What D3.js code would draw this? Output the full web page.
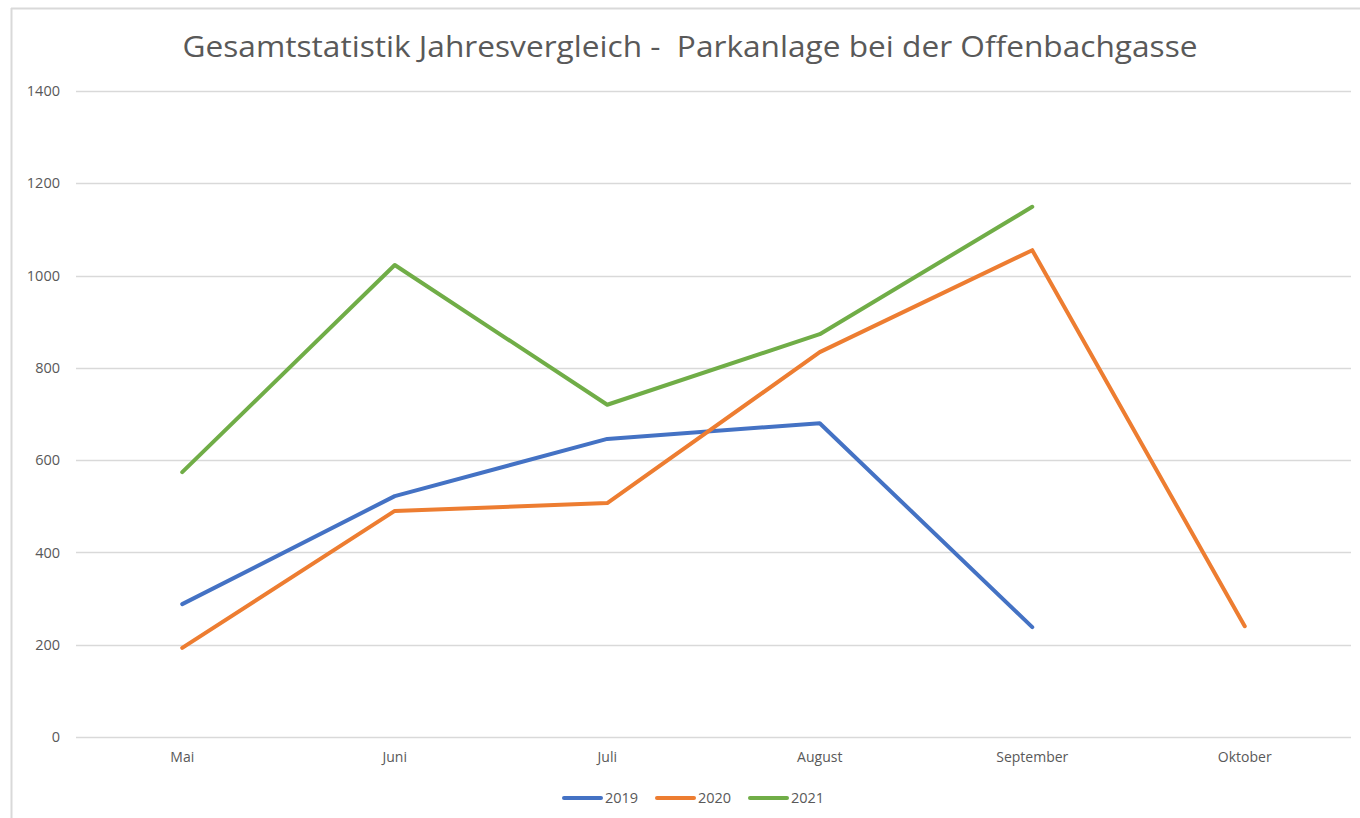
<!DOCTYPE html>
<html>
<head>
<meta charset="utf-8">
<script src="https://cdn.jsdelivr.net/npm/d3@7"></script>
<style>
  body { margin: 0; background: #fff; }
  text { font-family: "Open Sans", "Noto Sans", sans-serif; }
</style>
</head>
<body>
<script>
// chart data
var months = ["Mai", "Juni", "Juli", "August", "September", "Oktober"];
var years = ["2019", "2020", "2021"];
var colors = ["#4472c4", "#ed7d31", "#70ad47"];
var values2019 = [288, 522, 646, 680, 238, null];
var values2020 = [193, 490, 507, 834, 1055, 240];
var values2021 = [574, 1023, 720, 873, 1149, null];
var yTicks = [0, 200, 400, 600, 800, 1000, 1200, 1400];

var series = [values2019, values2020, values2021];

// set the dimensions and margins of the graph
var W = 1360, H = 818;
var margin = {top: 91, right: 9, bottom: 81, left: 76},
    width = W - margin.left - margin.right,
    height = H - margin.top - margin.bottom;

var svg = d3.select("body").append("svg")
    .attr("width", W)
    .attr("height", H);

// chart frame (only top and left edges visible in the screenshot)
svg.append("line")
    .attr("x1", 11).attr("y1", 8.5).attr("x2", W).attr("y2", 8.5)
    .attr("stroke", "#d9d9d9").attr("stroke-width", 2);
svg.append("line")
    .attr("x1", 11.5).attr("y1", 8).attr("x2", 11.5).attr("y2", H)
    .attr("stroke", "#d9d9d9").attr("stroke-width", 2);

// title
svg.append("text")
    .attr("x", 690)
    .attr("y", 57)
    .attr("text-anchor", "middle")
    .attr("fill", "#595959")
    .style("font-size", "29px")
    .style("white-space", "pre")
    .attr("textLength", 1015)
    .attr("lengthAdjust", "spacingAndGlyphs")
    .text("Gesamtstatistik Jahresvergleich -  Parkanlage bei der Offenbachgasse");

var g = svg.append("g")
    .attr("transform", "translate(" + margin.left + "," + margin.top + ")");

var x = d3.scaleBand()
    .domain(months)
    .range([0, width]);

var y = d3.scaleLinear()
    .domain([0, 1400])
    .range([height, 0]);

// gridlines
g.append("g")
    .selectAll("line")
    .data(yTicks)
    .enter()
    .append("line")
    .attr("x1", 0)
    .attr("x2", width)
    .attr("y1", function (d) { return Math.round(y(d)) + 0.5; })
    .attr("y2", function (d) { return Math.round(y(d)) + 0.5; })
    .attr("stroke", "#d9d9d9")
    .attr("stroke-width", 1.3);

// y axis labels
var yAxis = g.append("g")
    .call(d3.axisLeft(y).tickValues(yTicks).tickFormat(d3.format("d")).tickSize(0).tickPadding(16));
yAxis.select(".domain").remove();
yAxis.selectAll("text")
    .attr("fill", "#595959")
    .style("font-size", "14.5px")
    .style("font-family", "'Open Sans', sans-serif");

// x axis labels
var xAxis = g.append("g")
    .attr("transform", "translate(0," + height + ")")
    .call(d3.axisBottom(x).tickSize(0).tickPadding(15));
xAxis.select(".domain").remove();
xAxis.selectAll("text")
    .attr("fill", "#595959")
    .style("font-size", "14px")
    .style("font-family", "'Open Sans', sans-serif");

var line = d3.line()
    .defined(function (d) { return d != null; })
    .x(function (d, i) { return x(months[i]) + x.bandwidth() / 2; })
    .y(function (d) { return y(d); });

series.forEach(function (vals, i) {
    g.append("path")
        .datum(vals)
        .attr("fill", "none")
        .attr("stroke", colors[i])
        .attr("stroke-width", 4)
        .attr("stroke-linejoin", "round")
        .attr("stroke-linecap", "round")
        .attr("d", line);
});

// legend
var legendX = [564, 657, 750];
var legend = svg.append("g");
years.forEach(function (yr, i) {
    legend.append("line")
        .attr("x1", legendX[i]).attr("x2", legendX[i] + 37)
        .attr("y1", 798).attr("y2", 798)
        .attr("stroke", colors[i])
        .attr("stroke-width", 4)
        .attr("stroke-linecap", "round");
    legend.append("text")
        .attr("x", legendX[i] + 41)
        .attr("y", 803)
        .attr("fill", "#595959")
        .style("font-size", "14.5px")
        .text(yr);
});
</script>
</body>
</html>
